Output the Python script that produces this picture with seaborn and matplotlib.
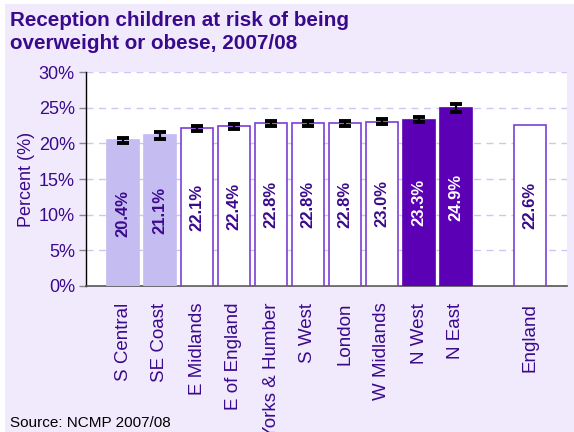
import matplotlib
matplotlib.use("Agg")
import matplotlib.pyplot as plt
import seaborn as sns
import pandas as pd
import numpy as np
from matplotlib.patches import Rectangle

regions = ["S Central", "SE Coast", "E Midlands", "E of England", "Yorks & Humber",
           "S West", "London", "W Midlands", "N West", "N East", " ", "England"]
values = [20.4, 21.1, 22.1, 22.4, 22.8, 22.8, 22.8, 23.0, 23.3, 24.9, np.nan, 22.6]
errors = [0.4, 0.45, 0.4, 0.35, 0.35, 0.35, 0.3, 0.35, 0.35, 0.55, np.nan, np.nan]
groups = ["low", "low", "mid", "mid", "mid", "mid", "mid", "mid", "high", "high", "none", "mid"]
yticks = [0, 5, 10, 15, 20, 25, 30]

BG = "#f1eafd"
PURPLE_TXT = "#3a0a8c"
LIGHT = "#c5bcf2"
DARK = "#5b00b5"
EDGE = "#7b3fd4"
GRID = "#cdc6f2"

sns.set_theme(style="white")
plt.rcParams["font.family"] = ["Liberation Sans", "DejaVu Sans"]

fig = plt.figure(figsize=(5.74, 4.32), dpi=100)
fig.patch.set_facecolor("white")
fig.patches.append(Rectangle((5 / 574, 0), 1, 1 - 4 / 432, transform=fig.transFigure,
                             facecolor=BG, edgecolor="none", zorder=-5))

ax = fig.add_axes([86 / 574, 1 - 286 / 432, (567 - 86) / 574, (286 - 72) / 432])
ax.set_facecolor("white")

df = pd.DataFrame({"region": regions, "pct": values})
sns.barplot(data=df, x="region", y="pct", order=regions, color="white",
            width=0.86, errorbar=None, ax=ax, zorder=3)

fills = {"low": LIGHT, "mid": "white", "high": DARK}
edges = {"low": LIGHT, "mid": EDGE, "high": DARK}
txtc = {"low": PURPLE_TXT, "mid": PURPLE_TXT, "high": "white"}

for p in ax.patches:
    i = int(round(p.get_x() + p.get_width() / 2))
    g = groups[i]
    if g == "none":
        continue
    p.set_facecolor(fills[g])
    p.set_edgecolor(edges[g])
    p.set_linewidth(1.2)

for i, (v, e, g) in enumerate(zip(values, errors, groups)):
    if np.isnan(v):
        continue
    ax.text(i, v / 2, f"{v:.1f}%", rotation=90, ha="center", va="center",
            fontsize=12, fontweight="bold", color=txtc[g], zorder=5)
    if not np.isnan(e):
        ax.errorbar(i, v, yerr=e, fmt="none", ecolor="black", elinewidth=1.6,
                    capsize=4, capthick=2.8, zorder=6)

ax.set_xlim(-1, 12)
ax.set_ylim(0, 30)
ax.set_yticks(yticks)
ax.set_yticklabels([f"{t}%" for t in yticks], fontsize=13, color=PURPLE_TXT)
ax.yaxis.grid(True, color=GRID, linestyle=(0, (5, 4)), linewidth=1)
ax.set_axisbelow(True)
ax.tick_params(axis="y", left=True, length=5, width=1, color="#888888", pad=3)
ax.tick_params(axis="x", bottom=False, pad=6)
ax.set_xticks(range(len(regions)))
ax.set_xticklabels(regions, rotation=90, fontsize=13.5, color=PURPLE_TXT, va="top")
ax.set_xlabel("")
ax.set_ylabel("Percent (%)", fontsize=13, color=PURPLE_TXT, labelpad=3)
for s in ["top", "right"]:
    ax.spines[s].set_visible(False)
ax.spines["left"].set_color("black")
ax.spines["left"].set_linewidth(1)
ax.spines["bottom"].set_color("#555555")
ax.spines["bottom"].set_linewidth(1.2)

fig.text(10 / 574, 1 - 11 / 432, "Reception children at risk of being\noverweight or obese, 2007/08",
         ha="left", va="top", fontsize=14.9, fontweight="bold", color=PURPLE_TXT,
         linespacing=1.28)
fig.text(10 / 574, 1 - 430 / 432, "Source: NCMP 2007/08", ha="left", va="bottom",
         fontsize=11, color="black")

fig.savefig("out.png", dpi=100, facecolor=fig.get_facecolor())
